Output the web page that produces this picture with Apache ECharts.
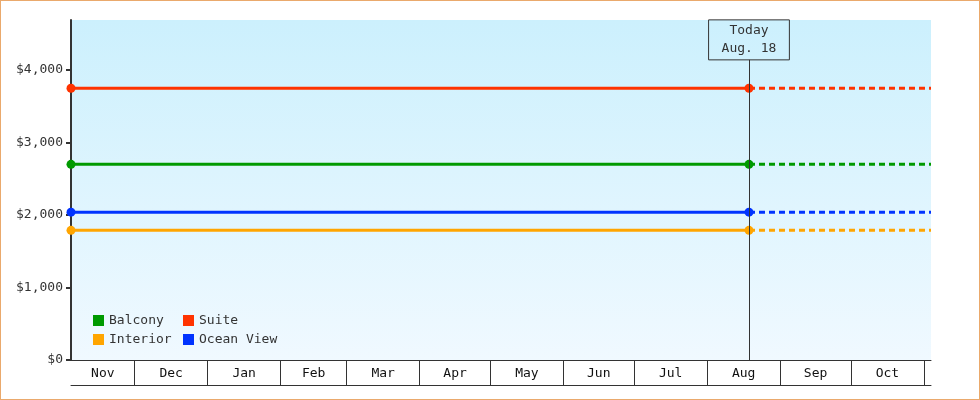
<!DOCTYPE html>
<html>
<head>
<meta charset="utf-8">
<script src="https://cdn.jsdelivr.net/npm/echarts@6/dist/echarts.min.js"></script>
<style>
  html, body { margin: 0; padding: 0; background: #fff; }
  #wrap { position: relative; width: 980px; height: 400px; }
  #chart { width: 980px; height: 400px; }
  #frame { position: absolute; left: 0; top: 0; width: 980px; height: 400px; box-sizing: border-box;
           border: 1px solid #eaa96c; pointer-events: none; }
</style>
</head>
<body>
<div id="wrap"><div id="chart"></div><div id="frame"></div></div>
<script>
// cabin categories and their current fares (USD)
var cabins = ['Balcony', 'Suite', 'Interior', 'Ocean View'];
var fares = [2699, 3749, 1789, 2039];
var cabinColors = ['#009a00', '#ff3300', '#ffa500', '#0033ff'];

// time window shown and the "today" marker
var rangeStart = [2022, 10, 4];
var rangeEnd = [2023, 10, 4];
var today = [2023, 7, 18, 18];
var todayLabel = 'Today\nAug. 18';

var monthLabels = ['Nov', 'Dec', 'Jan', 'Feb', 'Mar', 'Apr', 'May', 'Jun', 'Jul', 'Aug', 'Sep', 'Oct'];
var yTicks = [0, 1000, 2000, 3000, 4000];

function ts(d) { return new Date(d[0], d[1], d[2], d[3] || 0).getTime(); }
var tMin = ts(rangeStart), tMax = ts(rangeEnd), tToday = ts(today);

// month boundaries inside the window, and the centre of every month band
var monthStarts = [];
for (var i = 1; i <= 12; i++) monthStarts.push(new Date(rangeStart[0], rangeStart[1] + i, 1).getTime());
var bandEdges = [tMin].concat(monthStarts);
var bandCenters = [];
for (var i = 0; i < monthLabels.length; i++) bandCenters.push((bandEdges[i] + bandEdges[i + 1]) / 2);

var font = 'DejaVu Sans Mono';
var series = [];
cabins.forEach(function (name, k) {
    series.push({
        name: name,
        type: 'line',
        data: [[tMin, fares[k]], [tToday, fares[k]]],
        symbol: 'circle',
        symbolSize: 9,
        itemStyle: { color: cabinColors[k] },
        lineStyle: { color: cabinColors[k], width: 3 },
        clip: false,
        z: 3
    });
    series.push({
        name: name,
        type: 'line',
        data: [[tToday, fares[k]], [tMax, fares[k]]],
        symbol: 'none',
        itemStyle: { color: cabinColors[k] },
        lineStyle: { color: cabinColors[k], width: 3, type: [6, 4] },
        z: 2
    });
});

series[0].markLine = {
    silent: true,
    symbol: 'none',
    animation: false,
    lineStyle: { color: '#333', width: 1, type: 'solid' },
    label: {
        show: true,
        position: 'end',
        distance: 0,
        formatter: todayLabel,
        fontFamily: font,
        fontSize: 13,
        lineHeight: 18,
        color: '#333',
        padding: [2, 13],
        borderColor: '#333',
        borderWidth: 1
    },
    data: [[{ coord: [tToday, 0] }, { coord: [tToday, 4140] }]]
};

var legendBase = {
    orient: 'vertical', top: 314, padding: 0,
    icon: 'rect', itemWidth: 11, itemHeight: 11, itemGap: 6,
    textStyle: { fontFamily: font, fontSize: 13, color: '#333' }
};

var option = {
    animation: false,
    textStyle: { fontFamily: font },
    grid: {
        left: 71, right: 49, top: 20, bottom: 40,
        show: true,
        borderWidth: 0,
        backgroundColor: new echarts.graphic.LinearGradient(0, 0, 0, 1, [
            { offset: 0, color: '#ccf0fd' },
            { offset: 1, color: '#f0f9ff' }
        ])
    },
    legend: [
        Object.assign({}, legendBase, { left: 93, data: ['Balcony', 'Interior'] }),
        Object.assign({}, legendBase, { left: 183, data: ['Suite', 'Ocean View'] })
    ],
    xAxis: [{
        type: 'value',
        min: tMin, max: tMax,
        position: 'bottom',
        axisLine: { show: true, lineStyle: { color: '#333', width: 1 } },
        axisTick: { show: true, customValues: monthStarts, length: 25, lineStyle: { color: '#333', width: 1 } },
        axisLabel: {
            show: true,
            customValues: bandCenters,
            margin: 7,
            fontFamily: font, fontSize: 13, color: '#111',
            formatter: function (v) {
                var idx = bandCenters.indexOf(v);
                return idx < 0 ? '' : monthLabels[idx];
            }
        },
        splitLine: { show: false }
    }, {
        type: 'value',
        min: tMin, max: tMax,
        position: 'bottom',
        offset: 25,
        axisLine: { show: true, lineStyle: { color: '#333', width: 1 } },
        axisTick: { show: false },
        axisLabel: { show: false },
        splitLine: { show: false }
    }],
    yAxis: {
        type: 'value',
        min: 0, max: 4690,
        axisLine: { show: true, lineStyle: { color: '#333', width: 2 } },
        axisTick: { show: true, customValues: yTicks, length: 5, lineStyle: { color: '#333', width: 2 } },
        axisLabel: {
            customValues: yTicks,
            margin: 8,
            fontFamily: font, fontSize: 13, color: '#333',
            formatter: function (v) { return '$' + v.toLocaleString('en-US'); }
        },
        splitLine: { show: false }
    },
    series: series
};

var chart = echarts.init(document.getElementById('chart'));
chart.setOption(option);
</script>
</body>
</html>
